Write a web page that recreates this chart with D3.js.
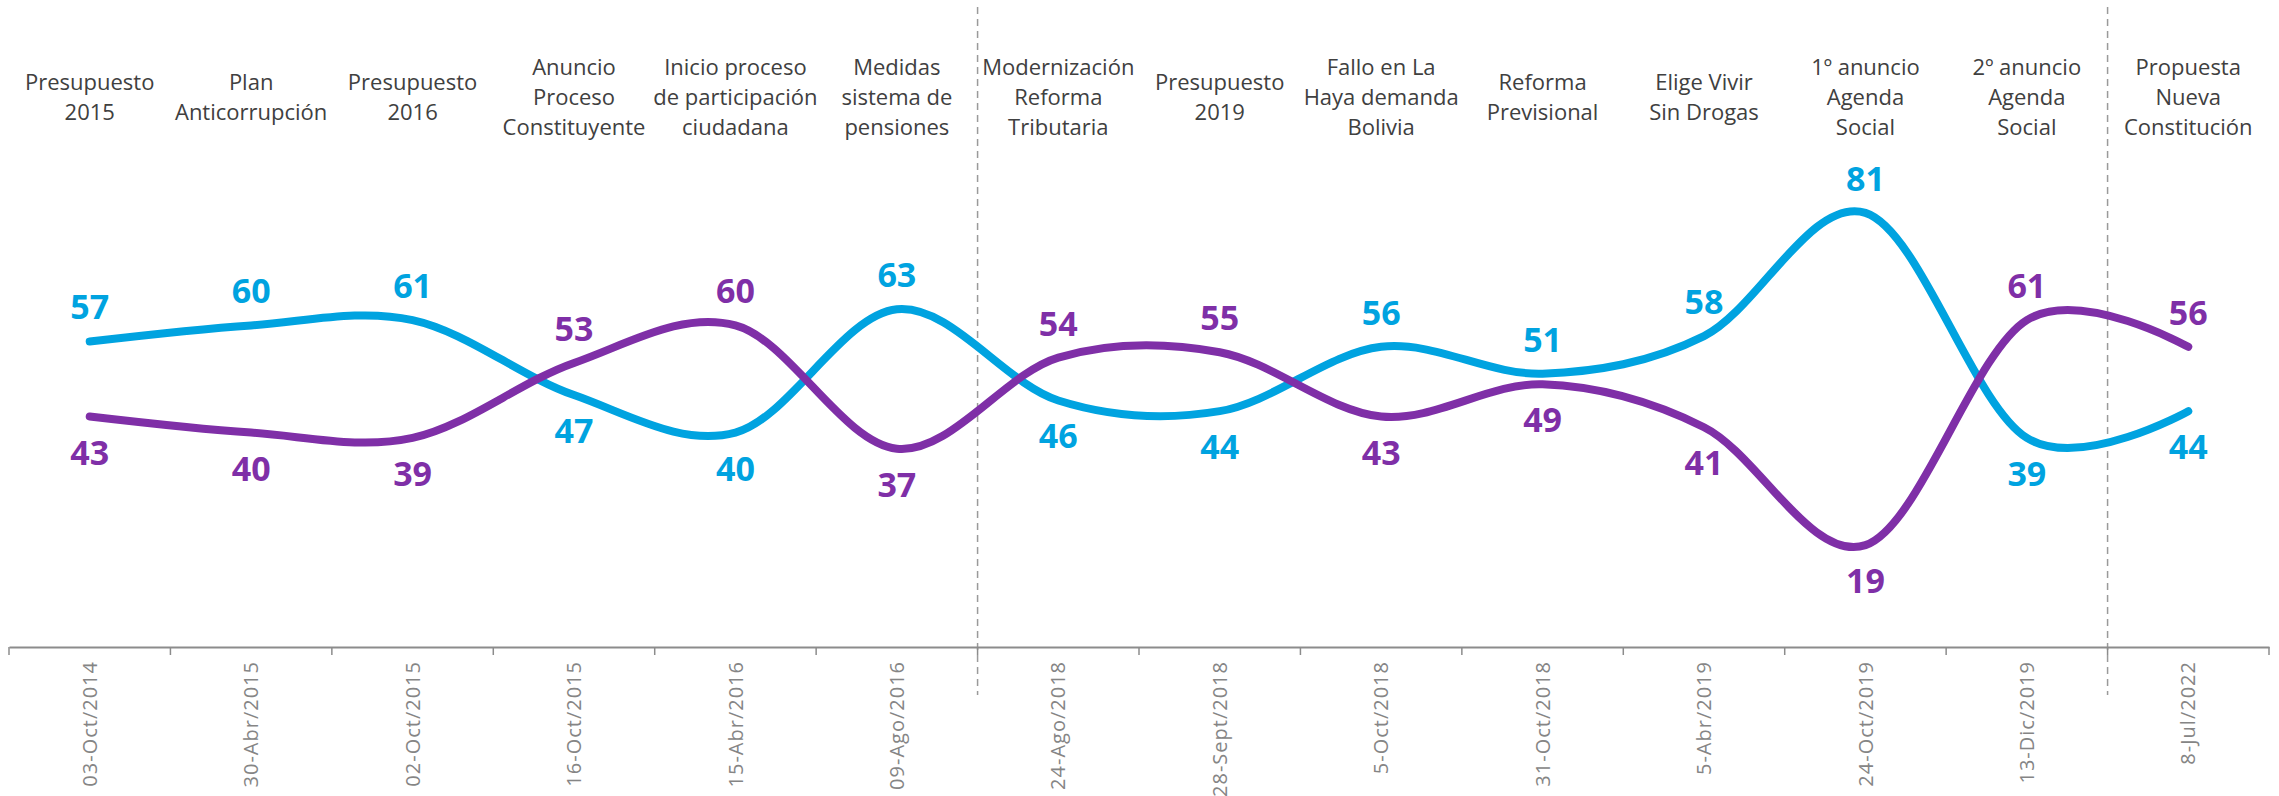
<!DOCTYPE html>
<html lang="es">
<head>
    <meta charset="utf-8">
    <title>Aprobación / Desaprobación</title>
    <script src="https://d3js.org/d3.v7.min.js" charset="utf-8"></script>
    <style type="text/css">
body {
    margin: 0;
    background: white;
}
.evento {
    font-family: "Open Sans", sans-serif;
    font-size: 22px;
    fill: #404040;
}
.fecha text {
    font-family: "Open Sans", sans-serif;
    font-size: 20px;
    letter-spacing: 1px;
    fill: #858585;
}
.valor {
    font-family: "Open Sans", sans-serif;
    font-weight: 700;
    font-size: 34px;
}
    </style>
</head>
<body>
<div id="chart"></div>
<script>

// fechas de medición (eje X)
var fechas = ["03-Oct/2014", "30-Abr/2015", "02-Oct/2015", "16-Oct/2015", "15-Abr/2016", "09-Ago/2016",
    "24-Ago/2018", "28-Sept/2018", "5-Oct/2018", "31-Oct/2018", "5-Abr/2019", "24-Oct/2019",
    "13-Dic/2019", "8-Jul/2022"];

// hito asociado a cada medición
var eventos = ["Presupuesto\n2015", "Plan\nAnticorrupción", "Presupuesto\n2016",
    "Anuncio\nProceso\nConstituyente", "Inicio proceso\nde participación\nciudadana",
    "Medidas\nsistema de\npensiones", "Modernización\nReforma\nTributaria", "Presupuesto\n2019",
    "Fallo en La\nHaya demanda\nBolivia", "Reforma\nPrevisional", "Elige Vivir\nSin Drogas",
    "1º anuncio\nAgenda\nSocial", "2º anuncio\nAgenda\nSocial", "Propuesta\nNueva\nConstitución"];

// series
var serieCeleste = [57, 60, 61, 47, 40, 63, 46, 44, 56, 51, 58, 81, 39, 44];
var serieMorada  = [43, 40, 39, 53, 60, 37, 54, 55, 43, 49, 41, 19, 61, 56];

// separadores (después de estas fechas)
var cortes = ["09-Ago/2016", "13-Dic/2019"];

var W = 2279, H = 796;
var left = 9, right = 2269, axisY = 647;

var svg = d3.select("#chart")
  .append("svg")
    .attr("width", W)
    .attr("height", H);

var x = d3.scaleBand().domain(fechas).range([left, right]).paddingInner(0).paddingOuter(0);
var y = d3.scaleLinear().domain([0, 100]).range([axisY, axisY - 536]);
var cx = function(f) { return x(f) + x.bandwidth() / 2; };

// lineas punteadas
svg.selectAll(".corte")
  .data(cortes)
  .enter().append("line")
    .attr("class", "corte")
    .attr("x1", function(d) { return x(d) + x.bandwidth(); })
    .attr("x2", function(d) { return x(d) + x.bandwidth(); })
    .attr("y1", 7)
    .attr("y2", 695)
    .attr("stroke", "#9a9a9a")
    .attr("stroke-width", 1.5)
    .attr("stroke-dasharray", "7,5");

// eje X
var xAxis = svg.append("g")
    .attr("class", "fecha")
    .attr("transform", "translate(0," + axisY + ")")
    .call(d3.axisBottom(x).tickSize(0));
xAxis.select(".domain").attr("stroke", "#8c8c8c").attr("stroke-width", 2);
xAxis.selectAll("text")
    .attr("transform", "rotate(-90)")
    .attr("text-anchor", "end")
    .attr("x", -14)
    .attr("y", 0)
    .attr("dy", "0.36em");

// marcas en los limites de cada categoria
var limites = fechas.map(function(f) { return x(f); }).concat([right]);
xAxis.selectAll(".limite")
  .data(limites)
  .enter().append("line")
    .attr("class", "limite")
    .attr("x1", function(d) { return d; })
    .attr("x2", function(d) { return d; })
    .attr("y1", 0)
    .attr("y2", 8)
    .attr("stroke", "#8c8c8c")
    .attr("stroke-width", 1.5);

// textos de eventos
var lineH = 30, centroY = 97;
svg.selectAll(".evento")
  .data(eventos)
  .enter().append("text")
    .attr("class", "evento")
    .attr("text-anchor", "middle")
    .each(function(d, i) {
      var lineas = d.split("\n");
      var y0 = centroY - (lineas.length - 1) * lineH / 2;
      d3.select(this).selectAll("tspan")
        .data(lineas)
        .enter().append("tspan")
          .attr("x", cx(fechas[i]))
          .attr("y", function(l, j) { return y0 + j * lineH; })
          .attr("dy", "0.35em")
          .text(function(l) { return l; });
    });

// lineas suavizadas
var linea = d3.line()
    .x(function(d, i) { return cx(fechas[i]); })
    .y(function(d) { return y(d); })
    .curve(d3.curveCardinal.tension(0));

var series = [
  {valores: serieCeleste, otra: serieMorada, color: "#00a3e0"},
  {valores: serieMorada, otra: serieCeleste, color: "#7f2fa7"}
];

series.forEach(function(s) {
  svg.append("path")
    .datum(s.valores)
    .attr("d", linea)
    .attr("fill", "none")
    .attr("stroke", s.color)
    .attr("stroke-width", 8)
    .attr("stroke-linecap", "round");
});

// etiquetas de valores: la mayor arriba, la menor abajo
series.forEach(function(s) {
  svg.selectAll(null)
    .data(s.valores)
    .enter().append("text")
      .attr("class", "valor")
      .attr("fill", s.color)
      .attr("text-anchor", "middle")
      .attr("dominant-baseline", "central")
      .attr("x", function(d, i) { return cx(fechas[i]); })
      .attr("y", function(d, i) { return y(d) + (d >= s.otra[i] ? -35 : 35); })
      .text(function(d) { return d; });
});

</script>
</body>
</html>
